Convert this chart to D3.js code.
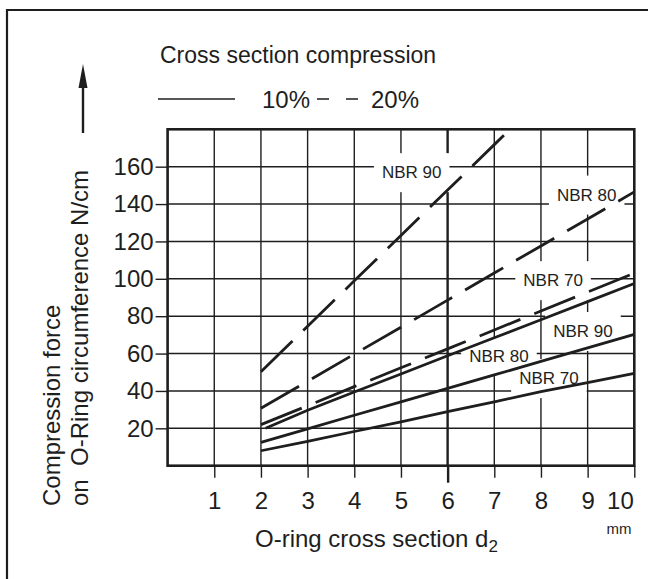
<!DOCTYPE html>
<html><head><meta charset="utf-8">
<script src="https://cdn.jsdelivr.net/npm/d3@7"></script>
<style>
body{margin:0;background:#fff}
svg{display:block}
text{font-family:"Liberation Sans",Arial,sans-serif;fill:#1e1e1e}
</style>
</head><body>
<svg id="c" width="648" height="579"></svg>
<script>
// ---- data ----
const xTicks = [1, 2, 3, 4, 5, 6, 7, 8, 9, 10];
const yTicks = [20, 40, 60, 80, 100, 120, 140, 160];
const dX = [2, 3, 4, 5, 6, 7, 8, 9, 10];             // O-ring cross section d2 (mm)
const solid70 = [8, 13, 18.3, 23.5, 28.9, 34.2, 39.6, 44.5, 49.4];
const solid80 = [12.5, 19.7, 27, 34.2, 41.4, 48.6, 55.8, 63, 70.3];
const solid90X = [2.1, 3, 4, 5, 6, 7, 8, 9, 10];
const solid90 = [20, 29.7, 39.4, 49.1, 58.8, 68.5, 78.1, 87.8, 97.5];
const dashed70 = [22, 32.1, 42.3, 52.4, 62.5, 72.6, 82.8, 92.9, 103];
const dashed80 = [30.7, 45.2, 59.7, 74.1, 88.6, 103.1, 117.6, 132, 146.5];
const dashed90X = [2, 3, 4, 5, 6, 7, 8];
const dashed90 = [50.3, 74.6, 98.9, 123.2, 147.5, 171.8, 196.1];
const seriesNames = ["NBR 70", "NBR 80", "NBR 90"];
// label anchor (in data units)
const labelX = [5.23, 8.98, 8.26, 8.9, 7.1, 8.17];
const labelY = [156.8, 144.8, 99, 71.8, 58.4, 46.6];
const labelText = ["NBR 90", "NBR 80", "NBR 70", "NBR 90", "NBR 80", "NBR 70"];

const svg = d3.select("#c");
const x = d3.scaleLinear([0, 10], [167.6, 634.3]);
const y = d3.scaleLinear([0, 180], [465.7, 129.3]);
const ink = "#1e1e1e";

// outer frame
svg.append("path").attr("d", "M7,600V10H660").attr("fill", "none")
  .attr("stroke", ink).attr("stroke-width", 2.2);

// grid
const grid = svg.append("g");
grid.selectAll("line.v").data(xTicks.filter(d => d < 10)).join("line")
  .attr("x1", d => x(d)).attr("x2", d => x(d)).attr("y1", y(0)).attr("y2", y(180))
  .attr("stroke", ink).attr("stroke-width", d => d === 6 ? 2.4 : 1.4);
grid.selectAll("line.h").data(yTicks).join("line")
  .attr("x1", x(0)).attr("x2", x(10)).attr("y1", d => y(d)).attr("y2", d => y(d))
  .attr("stroke", ink).attr("stroke-width", 1.4);

// axes
const ay = svg.append("g").attr("transform", `translate(${x(0)},0)`)
  .call(d3.axisLeft(y).tickValues(yTicks).tickSize(12).tickPadding(2));
ay.select(".domain").remove();
ay.selectAll("line").attr("stroke", ink).attr("stroke-width", 1.4);
ay.selectAll("text").attr("font-size", 24).style("font-family", '"Liberation Sans",Arial,sans-serif').attr("fill", ink);

const ax = svg.append("g").attr("transform", `translate(0,${y(0)})`)
  .call(d3.axisBottom(x).tickValues(xTicks).tickSize(12).tickPadding(14));
ax.select(".domain").remove();
ax.selectAll("line").attr("stroke", ink).attr("stroke-width", 1.4);
ax.selectAll(".tick").filter(d => d === 6).select("line").attr("y2", 17).attr("stroke-width", 2.4);
ax.selectAll("text").attr("font-size", 24).style("font-family", '"Liberation Sans",Arial,sans-serif').attr("fill", ink);
ax.selectAll(".tick").filter(d => d === 10).select("text").attr("text-anchor", "end").attr("x", -1);

// label backgrounds + labels
const lg = svg.append("g");
labelText.forEach((t, i) => {
  const tx = lg.append("text").attr("x", x(labelX[i])).attr("y", y(labelY[i]))
    .attr("text-anchor", "middle").attr("dominant-baseline", "central")
    .attr("font-size", 17).text(t);
  const b = tx.node().getBBox();
  lg.insert("rect", "text").attr("x", b.x - 8).attr("y", b.y - 10)
    .attr("width", b.width + 16).attr("height", b.height + 20).attr("fill", "#fff");
});

// data lines
svg.append("clipPath").attr("id", "plotclip").append("rect")
  .attr("x", x(0)).attr("y", y(180)).attr("width", x(10) - x(0)).attr("height", y(0) - y(180));
const line = d3.line().x(d => x(d[0])).y(d => y(d[1]));
const curves = [
  {xs: dX, ys: solid70, dash: null},
  {xs: dX, ys: solid80, dash: null},
  {xs: solid90X, ys: solid90, dash: null},
  {xs: dX, ys: dashed70, dash: "44,15"},
  {xs: dX, ys: dashed80, dash: "44,15"},
  {xs: dashed90X, ys: dashed90, dash: "44,15"}
];
const cg = svg.append("g").attr("clip-path", "url(#plotclip)");
curves.forEach(c => {
  cg.append("path").attr("d", line(c.xs.map((v, i) => [v, c.ys[i]])))
    .attr("fill", "none").attr("stroke", ink).attr("stroke-width", 2.8)
    .attr("stroke-dasharray", c.dash);
});

// plot border
svg.append("rect").attr("x", x(0)).attr("y", y(180)).attr("width", x(10) - x(0))
  .attr("height", y(0) - y(180)).attr("fill", "none").attr("stroke", ink).attr("stroke-width", 2.6);

// legend
svg.append("text").attr("x", 160).attr("y", 63).attr("font-size", 23).text("Cross section compression");
svg.append("line").attr("x1", 158).attr("x2", 235).attr("y1", 99).attr("y2", 99)
  .attr("stroke", ink).attr("stroke-width", 1.6);
svg.append("text").attr("x", 262).attr("y", 108).attr("font-size", 24).text("10%");
svg.append("line").attr("x1", 317).attr("x2", 358).attr("y1", 99).attr("y2", 99)
  .attr("stroke", ink).attr("stroke-width", 1.6).attr("stroke-dasharray", "12,17");
svg.append("text").attr("x", 371).attr("y", 108).attr("font-size", 24).text("20%");

// arrow
svg.append("line").attr("x1", 83).attr("x2", 83).attr("y1", 133).attr("y2", 84)
  .attr("stroke", ink).attr("stroke-width", 2.4);
svg.append("path").attr("d", "M83,64L78.5,88H87.5Z").attr("fill", ink);

// y title
const yt = svg.append("g").attr("transform", "translate(60,506) rotate(-90)");
yt.append("text").attr("x", 0).attr("y", 0).attr("font-size", 24).text("Compression force");
yt.append("text").attr("x", 0).attr("y", 28).attr("font-size", 24).attr("xml:space", "preserve")
  .style("white-space", "pre").text("on  O-Ring circumference N/cm");

// x title
const xt = svg.append("text").attr("x", 255).attr("y", 547).attr("font-size", 24);
xt.append("tspan").text("O-ring cross section d");
xt.append("tspan").attr("font-size", 17).attr("dy", 5).text("2");
svg.append("text").attr("x", 619).attr("y", 534).attr("text-anchor", "middle").attr("font-size", 15).text("mm");
</script>
</body></html>
